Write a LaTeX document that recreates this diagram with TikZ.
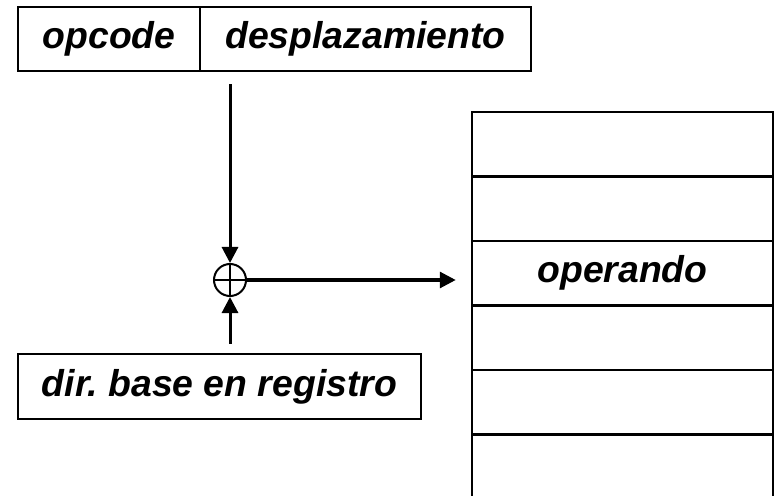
\documentclass[tikz,border=0pt]{standalone}
\usepackage{fontspec}
\setmainfont{Liberation Sans}
\usetikzlibrary{arrows.meta}
\frenchspacing
\begin{document}
\begin{tikzpicture}[x=1bp,y=-1bp,
  box/.style={draw,line width=2.5bp,inner sep=0pt,
    font=\fontsize{37.5}{40}\selectfont\bfseries\itshape},
  cell/.style={box,minimum width=301bp,minimum height=64.5bp},
  arr/.style={line width=3bp,-{Triangle[length=16bp,width=16bp]}}]
\useasboundingbox (0,0) rectangle (775,496);
% instruction format
\node[box,minimum width=182bp,minimum height=64bp] (op) at (109,39) {opcode};
\node[box,minimum width=331bp,minimum height=64bp] (desp) at (365.5,39) {desplazamiento};
% base register
\node[box,minimum width=403bp,minimum height=65bp] (base) at (219.5,386.5) {dir.\ base en registro};
% memory
\node[cell] (m1) at (622.5,144.25) {};
\node[cell] (m2) at (622.5,208.75) {};
\node[cell] (m3) at (622.5,273.25) {operando};
\node[cell] (m4) at (622.5,337.75) {};
\node[cell] (m5) at (622.5,402.25) {};
\node[cell] (m6) at (622.5,466.75) {};
% adder
\node[draw,circle,line width=2bp,minimum size=32bp,inner sep=0pt] (sum) at (230,280) {};
\draw[line width=2bp] (sum.north) -- (sum.south) (sum.west) -- (sum.east);
% connectors
\draw[arr] ([yshift=-12bp]sum.north |- desp.south) -- (sum.north);
\draw[arr] ([yshift=9bp]sum.south |- base.north) -- (sum.south);
\draw[arr,shorten >=15bp] (sum.east) -- (sum.east -| m3.west);
\end{tikzpicture}
\end{document}
